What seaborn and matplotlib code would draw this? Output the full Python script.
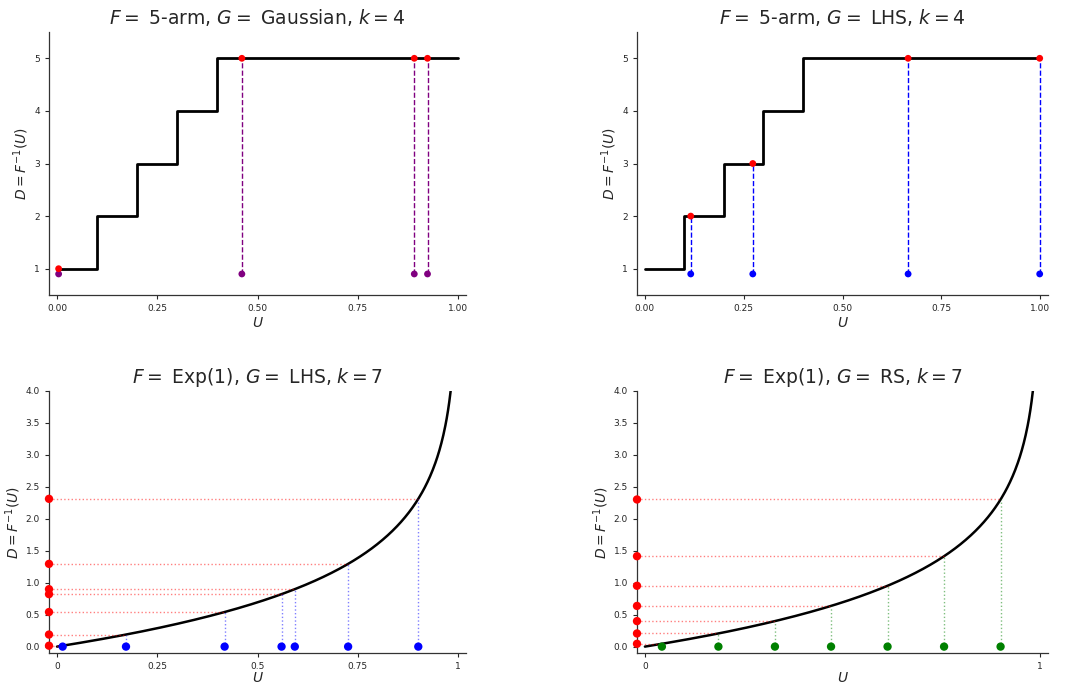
import numpy as np
import pandas as pd
import matplotlib
matplotlib.use("Agg")
import matplotlib.pyplot as plt
import seaborn as sns

# ---------------- data ----------------
# 5-arm discrete distribution: inverse CDF knots
arm_knots_u = [0.0, 0.1, 0.2, 0.3, 0.4, 1.0]
arm_knots_d = [1, 2, 3, 4, 5, 5]

# Top-left: Gaussian sampling, k = 4
gauss_u = [0.004, 0.461, 0.891, 0.924]
gauss_d = [1, 5, 5, 5]

# Top-right: LHS sampling, k = 4
lhs4_u = [0.116, 0.273, 0.666, 0.999]
lhs4_d = [2, 3, 5, 5]

# Bottom-left: LHS sampling on Exp(1), k = 7
lhs7_u = [0.014, 0.172, 0.418, 0.560, 0.593, 0.726, 0.901]

# Bottom-right: RS sampling on Exp(1), k = 7
rs7_u = [0.043, 0.186, 0.329, 0.471, 0.614, 0.757, 0.900]

top_xticks = [0.0, 0.25, 0.5, 0.75, 1.0]
top_xticklabels = ["0.00", "0.25", "0.50", "0.75", "1.00"]
top_yticks = [1, 2, 3, 4, 5]
bl_xticks = [0, 0.25, 0.5, 0.75, 1]
bl_xticklabels = ["0", "0.25", "0.5", "0.75", "1"]
br_xticks = [0, 1]
br_xticklabels = ["0", "1"]
bot_yticks = [0.0, 0.5, 1.0, 1.5, 2.0, 2.5, 3.0, 3.5, 4.0]

titles = [r"$F = $ 5-arm, $G = $ Gaussian, $k = 4$",
          r"$F = $ 5-arm, $G = $ LHS, $k = 4$",
          r"$F = $ Exp(1), $G = $ LHS, $k = 7$",
          r"$F = $ Exp(1), $G = $ RS, $k = 7$"]


def exp_inv(u):
    return -np.log(1.0 - np.asarray(u, dtype=float))


# ---------------- style ----------------
sns.set_style("ticks")
plt.rcParams["font.family"] = ["DejaVu Sans"]
plt.rcParams["mathtext.fontset"] = "dejavusans"

fig = plt.figure(figsize=(10.67, 6.84), dpi=100)
W, H = 1067, 684


def add_ax(x0, y0, x1, y1):
    return fig.add_axes([x0 / W, 1 - y1 / H, (x1 - x0) / W, (y1 - y0) / H])


ax_tl = add_ax(49, 32, 466, 295)
ax_tr = add_ax(637, 32, 1048, 295)
ax_bl = add_ax(49, 391, 466, 653)
ax_br = add_ax(637, 391, 1048, 653)

TICK_FS = 6.5
LABEL_FS = 10
TITLE_FS = 13.5


def style_axes(ax, title, xpad, ypad):
    ax.set_title(title, fontsize=TITLE_FS, pad=6)
    ax.set_xlabel(r"$U$", fontsize=LABEL_FS, labelpad=xpad)
    ax.set_ylabel(r"$D = F^{-1}(U)$", fontsize=LABEL_FS, labelpad=ypad)
    ax.tick_params(labelsize=TICK_FS, length=3, width=0.8, colors="#262626")
    for s in ["left", "bottom"]:
        ax.spines[s].set_linewidth(0.9)
        ax.spines[s].set_color("#333333")
    sns.despine(ax=ax)


# ---------------- top panels ----------------
step_df = pd.DataFrame({"U": arm_knots_u, "D": arm_knots_d})
for ax, us, ds, pcol, lcol, title in [
    (ax_tl, gauss_u, gauss_d, "purple", "purple", titles[0]),
    (ax_tr, lhs4_u, lhs4_d, "blue", "blue", titles[1]),
]:
    sns.lineplot(data=step_df, x="U", y="D", ax=ax, color="black", lw=2.0,
                 drawstyle="steps-post", sort=False, estimator=None)
    ax.vlines(us, [0.9] * len(us), ds, colors=lcol, linestyles="--", lw=1.0)
    sns.scatterplot(x=us, y=[0.9] * len(us), ax=ax, color=pcol, s=24,
                    edgecolor="none", zorder=4)
    sns.scatterplot(x=us, y=ds, ax=ax, color="red", s=24, edgecolor="none",
                    zorder=4)
    ax.set_xlim(-0.02, 1.02)
    ax.set_ylim(0.5, 5.5)
    ax.set_xticks(top_xticks)
    ax.set_xticklabels(top_xticklabels)
    ax.set_yticks(top_yticks)
    style_axes(ax, title, 2, 2)

# ---------------- bottom panels ----------------
u_curve = np.linspace(0, 0.99, 600)
curve_df = pd.DataFrame({"U": u_curve, "D": exp_inv(u_curve)})
for ax, us, pcol, title, xt, xtl in [
    (ax_bl, lhs7_u, "blue", titles[2], bl_xticks, bl_xticklabels),
    (ax_br, rs7_u, "green", titles[3], br_xticks, br_xticklabels),
]:
    ds = exp_inv(us)
    x_left = -0.02
    sns.lineplot(data=curve_df, x="U", y="D", ax=ax, color="black", lw=1.8,
                 sort=False, estimator=None)
    ax.hlines(ds, x_left, us, colors="red", linestyles=":", lw=1.0, alpha=0.5)
    ax.vlines(us, 0, ds, colors=pcol, linestyles=":", lw=1.0, alpha=0.5)
    sns.scatterplot(x=us, y=[0.0] * len(us), ax=ax, color=pcol, s=36,
                    edgecolor="none", zorder=4, clip_on=False)
    sns.scatterplot(x=[x_left] * len(us), y=ds, ax=ax, color="red", s=36,
                    edgecolor="none", zorder=4, clip_on=False)
    ax.set_xlim(-0.02, 1.02)
    ax.set_ylim(-0.1, 4.0)
    ax.set_xticks(xt)
    ax.set_xticklabels(xtl)
    ax.set_yticks(bot_yticks)
    style_axes(ax, title, 0, 2)

fig.savefig("out.png", dpi=100)
